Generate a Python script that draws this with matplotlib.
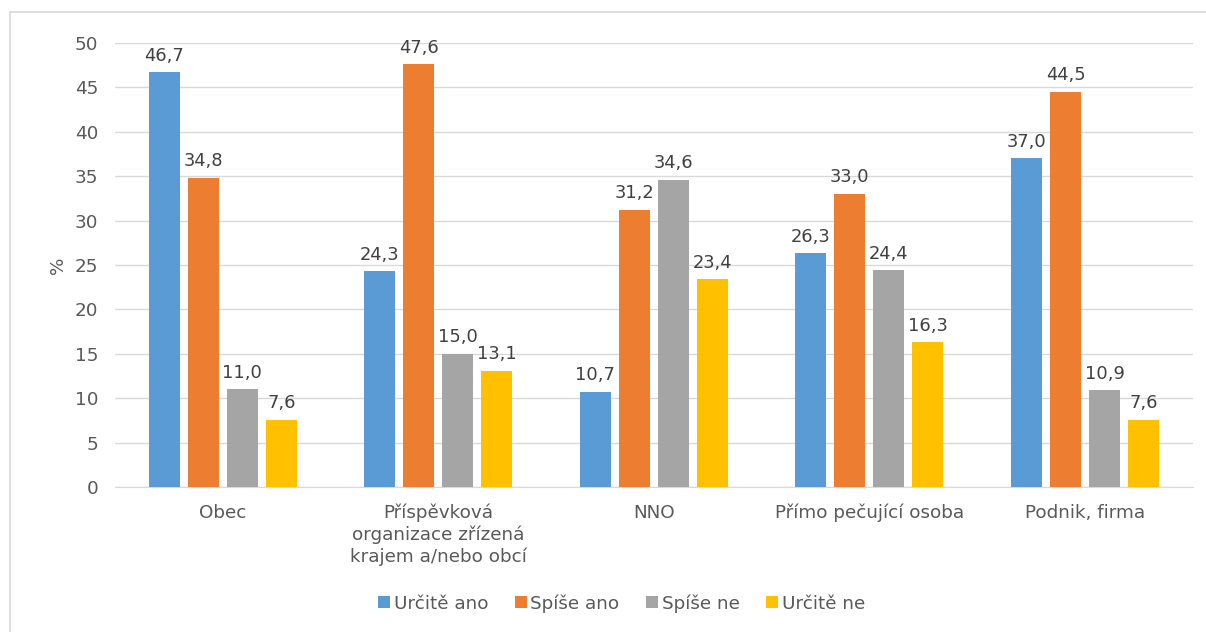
import numpy as np
import matplotlib.pyplot as plt
from matplotlib.patches import Rectangle

plt.rcParams['font.family'] = ['DejaVu Sans']

categories = ["Obec", "Příspěvková\norganizace zřízená\nkrajem a/nebo obcí", "NNO",
              "Přímo pečující osoba", "Podnik, firma"]
series = ["Určitě ano", "Spíše ano", "Spíše ne", "Určitě ne"]
urcite_ano = [46.7, 24.3, 10.7, 26.3, 37.0]
spise_ano = [34.8, 47.6, 31.2, 33.0, 44.5]
spise_ne = [11.0, 15.0, 34.6, 24.4, 10.9]
urcite_ne = [7.6, 13.1, 23.4, 16.3, 7.6]
colors = ["#5b9bd5", "#ed7d31", "#a5a5a5", "#ffc000"]

values = [urcite_ano, spise_ano, spise_ne, urcite_ne]
text_col = "#595959"
fs = 13.2

fig = plt.figure(figsize=(12.06, 6.32), dpi=100)
ax = fig.add_axes([0.0954, 0.2294, 0.8936, 0.7026])

x = np.arange(len(categories))
w = 0.144
step = 0.181
for i, (name, vals) in enumerate(zip(series, values)):
    pos = x + (i - 1.5) * step
    bars = ax.bar(pos, vals, width=w, color=colors[i], label=name, zorder=3)
    for b, v in zip(bars, vals):
        ax.text(b.get_x() + b.get_width() / 2, v + 0.85, f"{v:.1f}".replace(".", ","),
                ha="center", va="bottom", fontsize=fs - 0.3, color="#404040")

ax.set_xlim(-0.5, len(categories) - 0.5)
ax.set_ylim(0, 50)
ax.set_yticks(range(0, 51, 5))
ax.yaxis.grid(True, color="#d9d9d9", linewidth=1, zorder=0)
ax.set_xticks(x)
ax.set_xticklabels(categories, fontsize=fs, color=text_col, linespacing=1.22)
ax.tick_params(axis="y", labelsize=fs, colors=text_col, length=0, pad=12)
ax.tick_params(axis="x", length=0, pad=12)
for s in ["top", "right", "left"]:
    ax.spines[s].set_visible(False)
ax.spines["bottom"].set_color("#d9d9d9")
ax.set_ylabel("%", fontsize=fs, color=text_col, labelpad=6)

ax.legend(loc="center", bbox_to_anchor=(0.47, -0.262), ncol=4, frameon=False,
          fontsize=fs, labelcolor=text_col, handlelength=0.65, handleheight=0.65,
          handletextpad=0.2, columnspacing=1.45)

fig.patches.append(Rectangle((10 / 1206, -0.1), 1.2, 1 - 12 / 632 + 0.1,
                             transform=fig.transFigure, fill=False,
                             edgecolor="#d9d9d9", linewidth=1.2))

fig.savefig("out.png", dpi=100)
